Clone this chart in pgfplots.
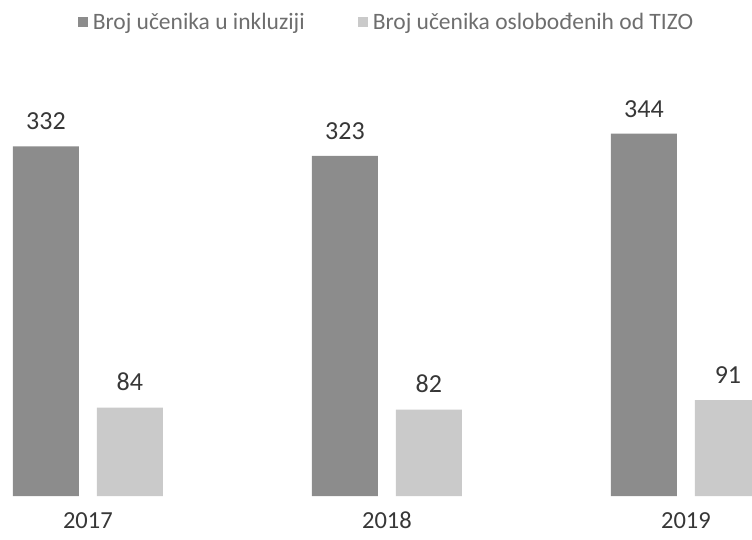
\documentclass[border=0pt]{standalone}
\usepackage{pgfplots}
\pgfplotsset{compat=1.18}
\usepackage{fontspec}
\setmainfont{Carlito}
\definecolor{darkbar}{RGB}{140,140,140}
\definecolor{lightbar}{RGB}{202,202,202}
\definecolor{numtxt}{RGB}{55,55,55}
\definecolor{legtxt}{RGB}{110,110,110}
\begin{document}
\begin{tikzpicture}
\useasboundingbox (0,-43pt) rectangle (752pt,496pt);
\begin{axis}[
  at={(0,0)}, anchor=south west,
  scale only axis,
  width=752pt, height=496pt,
  xmin=-0.294, xmax=2.221,
  ymin=0, ymax=471,
  ybar=18pt, bar width=66pt,
  axis line style={draw=none},
  ytick=\empty,
  xtick={0,1,2},
  xticklabels={2017,2018,2019},
  major tick length=0pt,
  /pgf/number format/assume math mode=true,
  xticklabel style={font=\fontsize{24.5}{28}\selectfont, text=numtxt, anchor=base, yshift=-32pt},
  nodes near coords,
  every node near coord/.append style={font=\fontsize{26}{30}\selectfont, text=numtxt, yshift=13pt},
  legend columns=2,
  legend style={draw=none, fill=none, at={(axis description cs:0.5,1)}, anchor=north,
    yshift=-9pt, xshift=10.5pt, font=\fontsize{23.5}{27}\selectfont, text=legtxt,
    /tikz/every odd column/.append style={column sep=3pt},
    /tikz/every even column/.append style={column sep=51pt}},
  legend image code/.code={\fill[#1] (0pt,-5pt) rectangle (10pt,5pt);},
]
\addplot[fill=darkbar, draw=none] coordinates {(0,332) (1,323) (2,344)};
\addplot[fill=lightbar, draw=none] coordinates {(0,84) (1,82) (2,91)};
\legend{Broj učenika u inkluziji, Broj učenika oslobođenih od TIZO}
\end{axis}
\end{tikzpicture}
\end{document}
